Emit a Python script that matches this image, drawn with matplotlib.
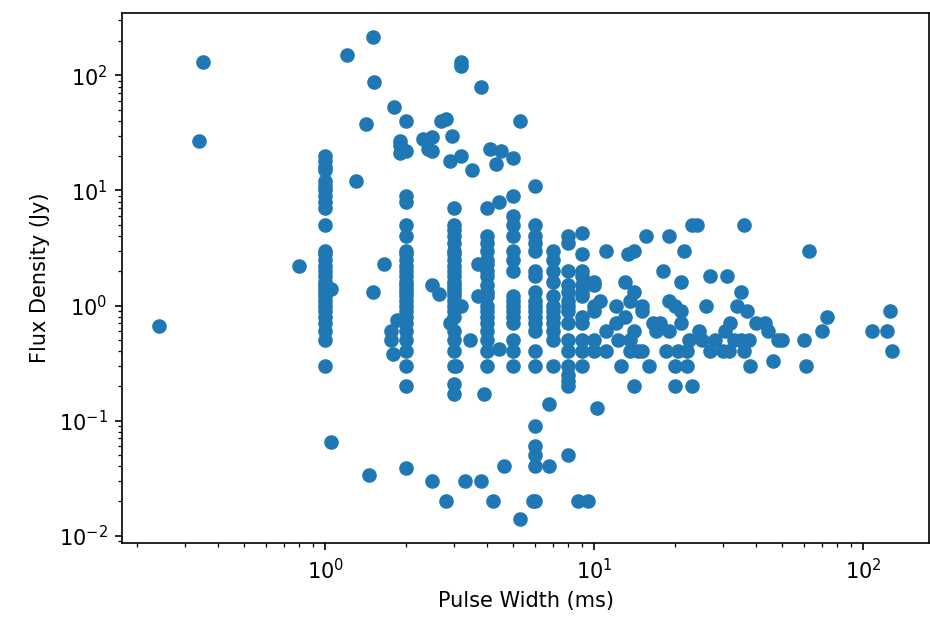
import matplotlib
matplotlib.use("Agg")
import matplotlib.pyplot as plt

# Pulse width (ms) and flux density (Jy)
width_iso = [0.24, 0.34, 0.35, 0.8, 1.05, 1.05, 1.2, 1.3, 1.42, 1.45, 1.5, 1.52, 1.5, 1.65,
             1.75, 1.75, 1.78, 1.8, 1.85, 1.9, 1.9, 1.9, 2.0, 2.0, 2.0,
             2.3, 2.4, 2.5, 2.5, 2.5, 2.5, 2.65, 2.7, 2.8, 2.8,
             2.9, 2.95, 3.2, 3.2, 3.2, 3.3, 3.5, 3.8, 3.8, 3.2, 3.45, 2.9, 3.05,
             3.9, 3.7, 3.7, 4.0, 4.1, 4.3, 4.4, 4.5, 4.4, 4.2, 4.6, 5.0, 5.3, 5.3,
             6.0, 5.9, 6.8, 6.8, 8.0, 8.7, 9.5, 10.2]
flux_iso = [0.66, 27, 130, 2.2, 1.4, 0.065, 150, 12, 38, 0.034, 215, 88, 1.3, 2.3,
            0.6, 0.5, 0.38, 53, 0.75, 27, 25, 21, 22, 40, 0.039,
            28, 23, 29, 22, 1.5, 0.03, 1.25, 40, 42, 0.02,
            18, 30, 20, 130, 120, 0.03, 15, 80, 0.03, 1.0, 0.5, 0.7, 0.3,
            0.17, 1.2, 2.3, 7, 23, 17, 8, 22, 0.42, 0.02, 0.04, 19, 40, 0.014,
            11, 0.02, 0.14, 0.04, 0.05, 0.02, 0.02, 0.13]

col1_flux = [20, 18, 16, 15, 12, 11, 10, 9, 8, 7, 5, 3, 2.8, 2.5, 2.2, 2, 1.8, 1.6, 1.5,
             1.4, 1.3, 1.2, 1.1, 1.0, 0.9, 0.8, 0.7, 0.6, 0.5, 0.3]
col2_flux = [9, 8, 5, 4, 3, 2.8, 2.5, 2.2, 2, 1.8, 1.6, 1.5, 1.4, 1.3, 1.2, 1.1, 1.0, 0.9,
             0.8, 0.7, 0.6, 0.5, 0.4, 0.3, 0.2]
col3_flux = [7, 5, 4.5, 4, 3.5, 3, 2.8, 2.5, 2.2, 2, 1.8, 1.6, 1.5, 1.4, 1.3, 1.2, 1.1, 1.0,
             0.9, 0.8, 0.6, 0.5, 0.4, 0.3, 0.21, 0.17]
col4_flux = [4, 3.5, 3, 2.5, 2.3, 2, 1.8, 1.5, 1.3, 1.2, 1.0, 0.9, 0.8, 0.7, 0.6, 0.5, 0.4, 0.3]
col5_flux = [9, 6, 5, 4, 3, 2.5, 2, 1.2, 1.1, 1, 0.9, 0.8, 0.7, 0.5, 0.4, 0.3]
col6_flux = [5, 4, 3.5, 3, 2, 1.8, 1.3, 1.1, 1, 0.9, 0.8, 0.7, 0.6, 0.4, 0.3, 0.09, 0.06,
             0.05, 0.04, 0.02]
col7_flux = [3, 2.5, 2, 1.6, 1.2, 1, 0.9, 0.8, 0.7, 0.6, 0.5, 0.3]
col8_flux = [4, 3.5, 2, 1.5, 1.3, 1.1, 1, 0.9, 0.7, 0.5, 0.4, 0.3, 0.25, 0.22, 0.2]
col9_flux = [4.3, 2.8, 2, 1.8, 1.5, 1.3, 1.2, 0.8, 0.7, 0.5, 0.4, 0.3]
col10_flux = [1.6, 1.5, 1.0, 0.9, 0.5, 0.4]

width_tail = [10.5, 11, 11, 11, 12, 12, 12.2, 12.5, 13, 13, 13.3, 13.5, 13.5, 13.5, 14, 14, 14,
              14, 14.5, 15, 15, 15, 15.5, 16, 16.5, 17, 17.5, 18, 18.5, 19, 19, 19, 20, 20, 20,
              20.5, 21, 21, 21, 21.5, 22, 22, 22.5, 23, 23, 24, 24.5, 25, 26, 27, 27, 28, 30,
              30.5, 31, 31.5, 32, 33, 34, 35, 35, 36, 37, 37.5, 36, 38, 40, 43, 44, 46, 48, 50,
              60, 61, 63, 70, 73, 108, 122, 125, 128]
flux_tail = [1.1, 3, 0.6, 0.4, 1.0, 0.7, 0.5, 0.3, 1.6, 0.8, 2.8, 1.1, 0.5, 0.4, 3, 0.2, 1.3,
             0.6, 0.4, 1.0, 0.9, 0.4, 4, 0.3, 0.7, 0.6, 0.7, 2, 0.4, 4, 1.1, 0.6, 1.0, 0.3, 0.2,
             0.4, 0.9, 0.7, 1.6, 3, 0.3, 0.4, 0.5, 5, 0.2, 5, 0.6, 0.5, 1.0, 1.8, 0.4, 0.5, 0.4,
             0.6, 1.8, 0.4, 0.7, 0.5, 1.0, 1.3, 0.5, 0.4, 0.9, 0.5, 5, 0.3, 0.7, 0.7, 0.6, 0.33,
             0.5, 0.5, 0.5, 0.3, 3, 0.6, 0.8, 0.6, 0.6, 0.9, 0.4]

columns = [(1, col1_flux), (2, col2_flux), (3, col3_flux), (4, col4_flux), (5, col5_flux),
           (6, col6_flux), (7, col7_flux), (8, col8_flux), (9, col9_flux), (10, col10_flux)]

widths = list(width_iso) + list(width_tail)
fluxes = list(flux_iso) + list(flux_tail)
for w, fl in columns:
    widths += [w] * len(fl)
    fluxes += list(fl)

fig, ax = plt.subplots(figsize=(6.2, 620 / 150), dpi=150)
fig.subplots_adjust(left=122 / 930, right=929 / 930, bottom=1 - 543 / 620, top=1 - 13 / 620)
ax.scatter(widths, fluxes, color="#1f77b4")
ax.set_xscale("log")
ax.set_yscale("log")
ax.set_xlabel("Pulse Width (ms)")
ax.set_ylabel("Flux Density (Jy)")
ax.spines["top"].set_visible(True)
fig.savefig("out.png", dpi=150)
